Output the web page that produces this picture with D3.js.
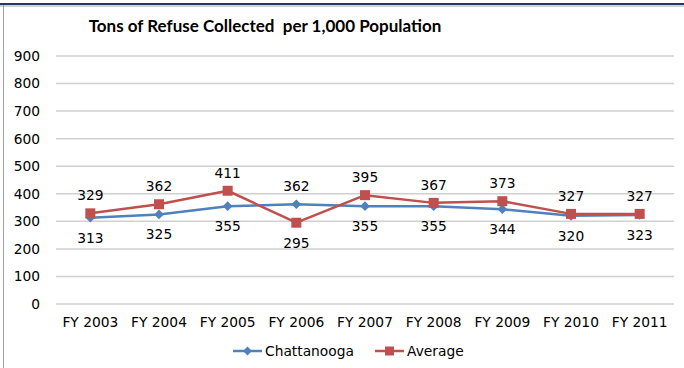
<!DOCTYPE html>
<html>
<head>
<meta charset="utf-8">
<script src="https://cdn.jsdelivr.net/npm/d3@7"></script>
<style>
  body { margin: 0; background: #fff; }
  svg { display: block; }
</style>
</head>
<body>
<svg id="chart" width="684" height="368"></svg>
<script>
// data
const years = ["FY 2003", "FY 2004", "FY 2005", "FY 2006", "FY 2007", "FY 2008", "FY 2009", "FY 2010", "FY 2011"];
const chattanooga = [313, 325, 355, 362, 355, 355, 344, 320, 323];
const average = [329, 362, 411, 295, 395, 367, 373, 327, 327];
const yTicks = [0, 100, 200, 300, 400, 500, 600, 700, 800, 900];

const W = 684, H = 368;
const margin = { top: 56, right: 10, bottom: 64, left: 56 };
const plotW = 674 - margin.left;
const plotH = 304 - margin.top;

const blue = "#4f81bd", red = "#c0504d";
const font = "DejaVu Sans, Verdana, sans-serif";
const fs = "13.8px";

const svg = d3.select("#chart");

// frame: navy top rule + grey left edge
svg.append("line").attr("x1", 0).attr("x2", W).attr("y1", 4).attr("y2", 4)
    .attr("stroke", "#1f3864").attr("stroke-width", 2);
svg.append("line").attr("x1", 0).attr("x2", W).attr("y1", 6).attr("y2", 6)
    .attr("stroke", "#a6a6a6").attr("stroke-width", 1);
svg.append("line").attr("x1", 3.5).attr("x2", 3.5).attr("y1", 5).attr("y2", H)
    .attr("stroke", "#a0a0a0").attr("stroke-width", 1);

svg.append("text")
    .attr("x", 265).attr("y", 32)
    .attr("text-anchor", "middle")
    .style("font-family", "Lato, Carlito, Calibri, sans-serif")
    .style("font-weight", "bold")
    .style("font-size", "17px")
    .style("white-space", "pre")
    .attr("fill", "#000")
    .text("Tons of Refuse Collected  per 1,000 Population");

const g = svg.append("g").attr("transform", `translate(${margin.left},${margin.top})`);

const x = d3.scaleBand().domain(years).range([0, plotW]);
const y = d3.scaleLinear().domain([0, 900]).range([plotH, 0]);
const cx = d => x(d) + x.bandwidth() / 2;

// gridlines
g.selectAll(".grid")
    .data(yTicks)
    .enter().append("line")
    .attr("x1", 0).attr("x2", plotW)
    .attr("y1", d => y(d)).attr("y2", d => y(d))
    .attr("stroke", "#d0d0d0")
    .attr("stroke-width", 1.5);

// y axis labels
const yAxis = g.append("g")
    .call(d3.axisLeft(y).tickValues(yTicks).tickSize(0).tickPadding(16));
yAxis.select(".domain").remove();
yAxis.selectAll("text")
    .style("font-family", font).style("font-size", fs).attr("fill", "#000");

// x axis labels
const xAxis = g.append("g")
    .attr("transform", `translate(0,${plotH})`)
    .call(d3.axisBottom(x).tickSize(0).tickPadding(13));
xAxis.select(".domain").remove();
xAxis.selectAll("text")
    .style("font-family", font).style("font-size", fs).attr("fill", "#000");

const line = d3.line().x((d, i) => cx(years[i])).y(d => y(d));

// Chattanooga
g.append("path").datum(chattanooga)
    .attr("d", line).attr("fill", "none")
    .attr("stroke", blue).attr("stroke-width", 2.5).attr("stroke-linejoin", "round");
g.selectAll(".diamond")
    .data(chattanooga)
    .enter().append("path")
    .attr("d", d3.symbol(d3.symbolDiamond2, 60))
    .attr("transform", (d, i) => `translate(${cx(years[i])},${y(d)})`)
    .attr("fill", blue);

// Average
g.append("path").datum(average)
    .attr("d", line).attr("fill", "none")
    .attr("stroke", red).attr("stroke-width", 2.5).attr("stroke-linejoin", "round");
g.selectAll(".square")
    .data(average)
    .enter().append("rect")
    .attr("x", (d, i) => cx(years[i]) - 5)
    .attr("y", d => y(d) - 5)
    .attr("width", 10).attr("height", 10)
    .attr("fill", red);

// data labels: the higher value goes above, the lower one below
years.forEach((yr, i) => {
    const c = chattanooga[i], a = average[i];
    const pairs = [[c, c > a], [a, a >= c]];
    pairs.forEach(([v, above]) => {
        g.append("text")
            .attr("x", cx(yr))
            .attr("y", above ? Math.min(y(c), y(a)) - 13 : Math.max(y(c), y(a)) + 25)
            .attr("text-anchor", "middle")
            .style("font-family", font).style("font-size", fs)
            .attr("fill", "#000")
            .text(v);
    });
});

// legend
const legend = svg.append("g").attr("transform", "translate(0,351)");
const items = [
    { name: "Chattanooga", color: blue, x0: 233, shape: "diamond" },
    { name: "Average", color: red, x0: 375, shape: "square" }
];
items.forEach(it => {
    legend.append("line").attr("x1", it.x0).attr("x2", it.x0 + 29)
        .attr("y1", 0).attr("y2", 0)
        .attr("stroke", it.color).attr("stroke-width", 2.5);
    if (it.shape === "diamond") {
        legend.append("path")
            .attr("d", d3.symbol(d3.symbolDiamond2, 50))
            .attr("transform", `translate(${it.x0 + 14.5},0)`)
            .attr("fill", it.color);
    } else {
        legend.append("rect").attr("x", it.x0 + 10).attr("y", -4.5)
            .attr("width", 9).attr("height", 9).attr("fill", it.color);
    }
    legend.append("text")
        .attr("x", it.x0 + 32).attr("y", 5)
        .style("font-family", font).style("font-size", fs)
        .attr("fill", "#000")
        .text(it.name);
});
</script>
</body>
</html>
